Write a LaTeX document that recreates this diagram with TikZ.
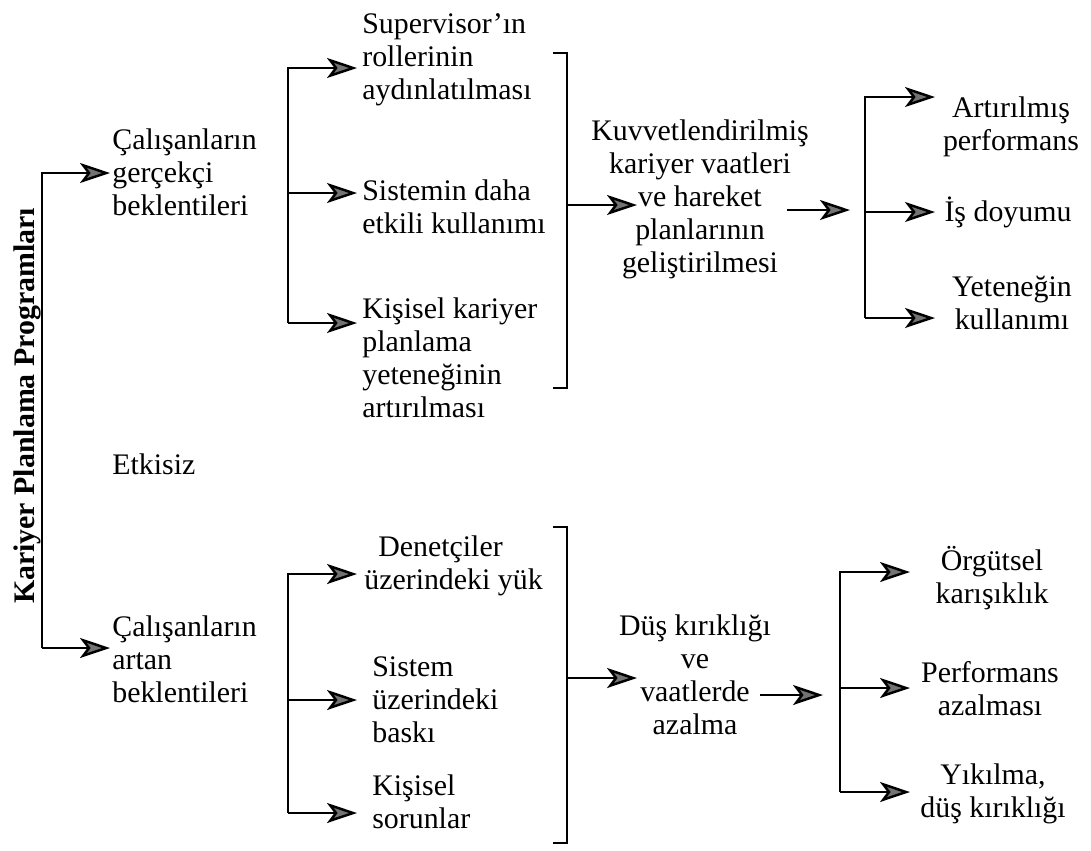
\documentclass[tikz,border=0pt]{standalone}
\usepackage{fontspec}
\setmainfont{Liberation Serif}
\usetikzlibrary{arrows.meta}
\newcommand{\blkL}[1]{\begin{tabular}[t]{@{}l@{}}#1\end{tabular}}
\newcommand{\blkC}[1]{\begin{tabular}[t]{@{}c@{}}#1\end{tabular}}
\begin{document}
\begin{tikzpicture}[x=0.02cm,y=-0.02cm,
  txt/.style={inner sep=0pt, font=\fontsize{17}{18.8}\selectfont},
  lt/.style={txt, anchor=base west},
  ct/.style={txt, anchor=base},
  ttl/.style={inner sep=0pt, font=\fontsize{17}{18.8}\selectfont\bfseries, rotate=90, anchor=base},
  ln/.style={line width=1.4pt, line cap=butt},
  arr/.style={ln, -{Stealth[length=0.6cm,width=0.4cm,inset=0.15cm,fill=black!55]}},
]
\useasboundingbox (0,0) rectangle (1091,850);

% ---- texts ----
\node[ttl] (title) at (34,406) {Kariyer Planlama Programları};

\node[lt] (L1) at (112,149) {\blkL{Çalışanların\\gerçekçi\\beklentileri}};
\node[lt] (etk) at (112,474) {Etkisiz};
\node[lt] (L2) at (112,636) {\blkL{Çalışanların\\artan\\beklentileri}};

\node[lt] (M1) at (362,33) {\blkL{Supervisor’ın\\rollerinin\\aydınlatılması}};
\node[lt] (M2) at (362,200) {\blkL{Sistemin daha\\etkili kullanımı}};
\node[lt] (M3) at (362,318) {\blkL{Kişisel kariyer\\planlama\\yeteneğinin\\artırılması}};

\node[ct] (C1) at (700,140) {\blkC{Kuvvetlendirilmiş\\kariyer vaatleri\\ve hareket\\planlarının\\geliştirilmesi}};

\node[ct] (R1) at (1011,117) {\blkC{Artırılmış\\performans}};
\node[ct] (R2) at (1008,221) {İş doyumu};
\node[ct] (R3) at (1012,296) {\blkC{Yeteneğin\\kullanımı}};

\node[lt] (N1) at (364,556) {\blkL{\hspace*{0.28cm}Denetçiler\\üzerindeki yük}};
\node[lt] (N2) at (372,676) {\blkL{Sistem\\üzerindeki\\baskı}};
\node[lt] (N3) at (372,795) {\blkL{Kişisel\\sorunlar}};

\node[ct] (D1) at (695,635) {\blkC{Düş kırıklığı\\ve\\vaatlerde\\azalma}};

\node[ct] (O1) at (992,570) {\blkC{Örgütsel\\karışıklık}};
\node[ct] (P1) at (990,682) {\blkC{Performans\\azalması}};
\node[ct] (Y1) at (993,784) {\blkC{Yıkılma,\\düş kırıklığı}};

% ---- coordinates ----
\coordinate (tA) at (42,173);  \coordinate (tB) at (42,648);
\coordinate (L1in) at (110,173); \coordinate (L2in) at (110,648);

\coordinate (fa1) at (288,68);  \coordinate (fa2) at (288,193); \coordinate (fa3) at (288,323);
\coordinate (M1in) at (357,68); \coordinate (M2in) at (357,193); \coordinate (M3in) at (357,323);

\coordinate (ba1) at (553,53); \coordinate (ba2) at (567,53);
\coordinate (ba3) at (567,388); \coordinate (ba4) at (553,388);
\coordinate (baM) at (567,205); \coordinate (C1in) at (637,205);

\coordinate (C1out) at (787,210); \coordinate (ra0) at (850,210);
\coordinate (ra1) at (865,97); \coordinate (ra2) at (865,212); \coordinate (ra3) at (865,318);
\coordinate (R1in) at (935,97); \coordinate (R2in) at (935,212); \coordinate (R3in) at (935,318);

\coordinate (fb1) at (288,574); \coordinate (fb2) at (288,700); \coordinate (fb3) at (288,813);
\coordinate (N1in) at (357,574); \coordinate (N2in) at (357,700); \coordinate (N3in) at (357,813);

\coordinate (bb1) at (553,527); \coordinate (bb2) at (567,527);
\coordinate (bb3) at (567,843); \coordinate (bb4) at (553,843);
\coordinate (bbM) at (567,678); \coordinate (D1in) at (637,678);

\coordinate (D1out) at (760,695); \coordinate (rb0) at (823,695);
\coordinate (rb1) at (840,572); \coordinate (rb2) at (840,688); \coordinate (rb3) at (840,792);
\coordinate (O1in) at (910,572); \coordinate (P1in) at (910,688); \coordinate (Y1in) at (910,792);

% ---- connectors ----
\draw[arr] (tB) -- (tA) -- (L1in);
\draw[arr] (tB) -- (L2in);

\draw[arr] (fa3) -- (fa1) -- (M1in);
\draw[arr] (fa2) -- (M2in);
\draw[arr] (fa3) -- (M3in);

\draw[ln] (ba1) -- (ba2) -- (ba3) -- (ba4);
\draw[arr] (baM) -- (C1in);

\draw[arr] (C1out) -- (ra0);
\draw[arr] (ra3) -- (ra1) -- (R1in);
\draw[arr] (ra2) -- (R2in);
\draw[arr] (ra3) -- (R3in);

\draw[arr] (fb3) -- (fb1) -- (N1in);
\draw[arr] (fb2) -- (N2in);
\draw[arr] (fb3) -- (N3in);

\draw[ln] (bb1) -- (bb2) -- (bb3) -- (bb4);
\draw[arr] (bbM) -- (D1in);

\draw[arr] (D1out) -- (rb0);
\draw[arr] (rb3) -- (rb1) -- (O1in);
\draw[arr] (rb2) -- (P1in);
\draw[arr] (rb3) -- (Y1in);
\end{tikzpicture}
\end{document}
